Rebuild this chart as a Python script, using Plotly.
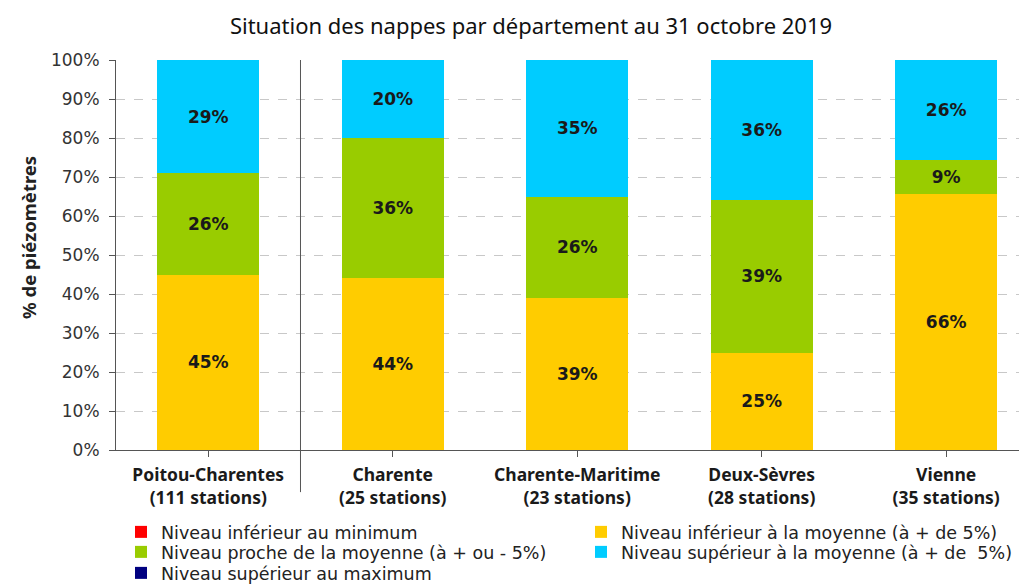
import plotly.graph_objects as go

categories = ["Poitou-Charentes<br>(111 stations)", "Charente<br>(25 stations)",
              "Charente-Maritime<br>(23 stations)", "Deux-Sèvres<br>(28 stations)",
              "Vienne<br>(35 stations)"]
sous_minimum = [0, 0, 0, 0, 0]
inf_moyenne = [45, 44, 39, 25, 65.7]
proche_moyenne = [26, 36, 26, 39, 8.6]
sup_moyenne = [29, 20, 35, 36, 25.7]
sup_maximum = [0, 0, 0, 0, 0]
y_ticks = [0, 10, 20, 30, 40, 50, 60, 70, 80, 90, 100]

FONT = "Noto Sans"
WIDE = "DejaVu Sans"
OFF = 8                      # page body margin in the browser
W, H = 1027 - OFF, 585 - OFF
ML, MR, MT, MB = 116 - OFF, 0, 60 - OFF, 135
PW, PH = W - ML - MR, H - MT - MB
x = list(range(len(categories)))


def cx(px):
    return (px - OFF) / W


def cy(py):
    return 1 - (py - OFF) / H


# name, values, colour, legend id, legend position (screen px: x, y)
series = [
    ("Niveau inférieur au minimum", sous_minimum, "#FF0000", "legend", (121, 532)),
    ("Niveau inférieur à la moyenne (à + de 5%)", inf_moyenne, "#FFCC00", "legend2", (581, 532)),
    ("Niveau proche de la moyenne (à + ou - 5%)", proche_moyenne, "#99CC00", "legend3", (121, 552)),
    ("Niveau supérieur à la moyenne (à + de  5%)", sup_moyenne, "#00CCFF", "legend4", (581, 552)),
    ("Niveau supérieur au maximum", sup_maximum, "#000080", "legend5", (121, 573)),
]

fig = go.Figure()
legends = {}
for name, vals, col, lg, (lx, ly) in series:
    show_text = any(v > 0 for v in vals)
    fig.add_trace(go.Bar(
        name=name, x=x, y=vals, marker=dict(color=col, line=dict(width=0)),
        width=0.553, legend=lg,
        texttemplate="%{y:.0f}%" if show_text else None,
        textposition="inside" if show_text else "none",
        insidetextanchor="middle", textangle=0, constraintext="none",
        textfont=dict(family=WIDE, size=17, color="#1a1a1a", weight="bold"),
    ))
    legends[lg] = dict(
        xref="container", yref="container", x=cx(lx), y=cy(ly),
        xanchor="left", yanchor="middle", orientation="h",
        font=dict(family=WIDE, size=17.5, color="#222"),
        itemwidth=30, bgcolor="rgba(0,0,0,0)", borderwidth=0,
    )

fig.update_layout(
    barmode="stack",
    width=W, height=H,
    margin=dict(l=ML, r=MR, t=MT, b=MB, autoexpand=False),
    plot_bgcolor="white", paper_bgcolor="white",
    font=dict(family=FONT, color="#222"),
    title=dict(text="Situation des nappes par département au 31 octobre 2019",
               xref="container", yref="container",
               x=cx(531), xanchor="center", y=cy(26), yanchor="middle",
               font=dict(family=FONT, size=22, color="#111")),
    showlegend=True,
    **legends,
)
fig.update_xaxes(
    tickmode="array", tickvals=x, ticktext=categories,
    range=[-0.5, 4.438], showgrid=False,
    showline=True, linecolor="#555", linewidth=1,
    ticks="outside", tickson="boundaries", ticklen=6, tickcolor="#555",
    ticklabelstandoff=3,
    tickfont=dict(family=FONT, size=17.5, color="#1a1a1a", weight="bold"),
)
fig.update_yaxes(
    range=[0, 100], tickvals=y_ticks, ticktext=[f"{v}%" for v in y_ticks],
    showline=True, linecolor="#555", linewidth=1,
    ticks="outside", ticklen=6, tickcolor="#555",
    ticklabelstandoff=6,
    showgrid=True, gridcolor="#c8c8c8", griddash="dash", gridwidth=1,
    tickfont=dict(family=WIDE, size=17, color="#333"),
    zeroline=False,
)
fig.add_annotation(text="<b>% de piézomètres</b>", textangle=-90,
                   xref="paper", yref="paper",
                   x=(28 - OFF - ML) / PW, y=(MT + PH - (238 - OFF)) / PH,
                   xanchor="center", yanchor="middle", showarrow=False,
                   font=dict(family=FONT, size=18.5, color="#222"))
fig.add_shape(type="line", xref="x", yref="paper", x0=0.5, x1=0.5, y0=-0.108, y1=1,
              line=dict(color="#555", width=1))

fig.write_html("out.html")
